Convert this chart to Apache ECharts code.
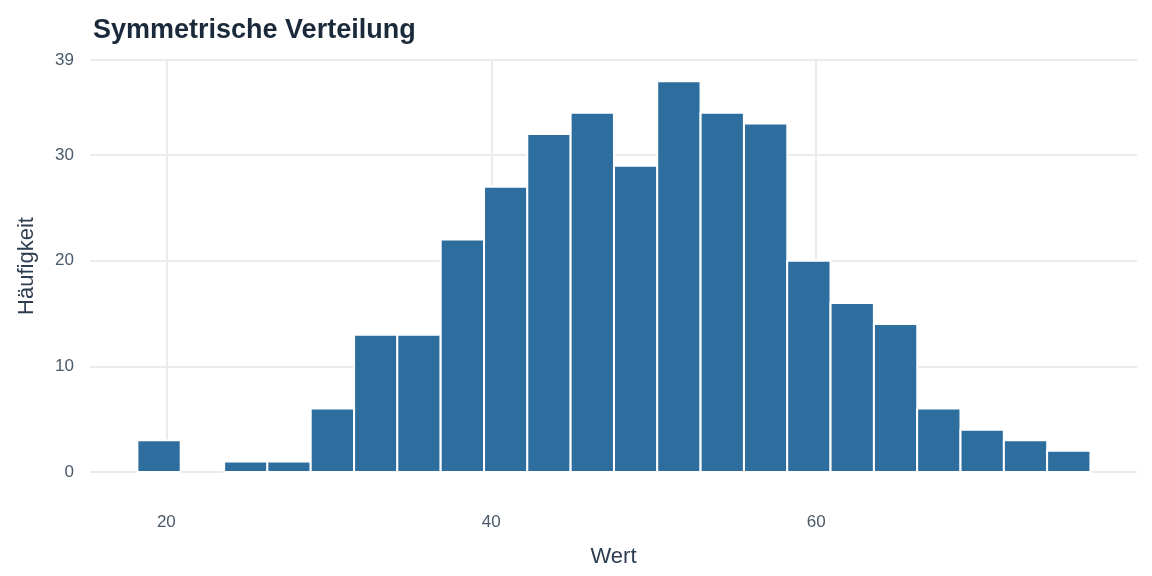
<!DOCTYPE html>
<html>
<head>
<meta charset="utf-8">
<script src="https://cdn.jsdelivr.net/npm/echarts@6/dist/echarts.min.js"></script>
<style>html,body{margin:0;padding:0;background:#fff}#chart{width:1152px;height:576px}</style>
</head>
<body>
<div id="chart"></div>
<script>
// Klassenmitten und Häufigkeiten
const binCenters = [19.55, 22.22, 24.89, 27.55, 30.22, 32.89, 35.55, 38.22, 40.89, 43.55, 46.22,
  48.89, 51.55, 54.22, 56.89, 59.55, 62.22, 64.89, 67.55, 70.22, 72.89, 75.55];
const counts = [3, 0, 1, 1, 6, 13, 13, 22, 27, 32, 34, 29, 37, 34, 33, 20, 16, 14, 6, 4, 3, 2];
const binWidth = 2.667;
const xTicks = [20, 40, 60];

const chart = echarts.init(document.getElementById('chart'));
const gridColor = '#ebebeb';

chart.setOption({
  animation: false,
  title: {
    text: 'Symmetrische Verteilung', left: 88, top: 12,
    textStyle: { fontFamily: 'Liberation Sans', fontSize: 27, fontWeight: 'bold', color: '#1b2a3a' }
  },
  grid: { left: 90, right: 15, top: 60, bottom: 104 },
  xAxis: {
    type: 'value', min: 15.3, max: 79.75,
    name: 'Wert', nameLocation: 'middle', nameGap: 74,
    nameTextStyle: { fontFamily: 'Liberation Sans', fontSize: 22, color: '#2e3e50' },
    axisLine: { show: false }, axisTick: { show: false },
    splitLine: { show: false },
    axisLabel: { customValues: xTicks, margin: 42, fontFamily: 'Liberation Sans', fontSize: 17, color: '#4a5a6a' }
  },
  yAxis: {
    type: 'value', min: 0, max: 39, interval: 10,
    name: 'Häufigkeit', nameLocation: 'middle', nameGap: 52,
    nameTextStyle: { fontFamily: 'Liberation Sans', fontSize: 22, color: '#2e3e50' },
    axisLine: { show: false }, axisTick: { show: false },
    splitLine: { lineStyle: { color: gridColor, width: 2 } },
    axisLabel: { margin: 16, fontFamily: 'Liberation Sans', fontSize: 17, color: '#4a5a6a' }
  },
  series: [{
    type: 'custom',
    data: binCenters.map((c, i) => [c, counts[i]]),
    renderItem: function (params, api) {
      const c = api.value(0), v = api.value(1);
      if (!v) return;
      const p0 = api.coord([c - binWidth / 2, v]);
      const p1 = api.coord([c + binWidth / 2, 0]);
      return {
        type: 'rect',
        shape: { x: p0[0], y: p0[1], width: p1[0] - p0[0], height: p1[1] - p0[1] },
        style: { fill: '#2e6e9e', stroke: '#fff', lineWidth: 2 }
      };
    },
    markLine: {
      silent: true, symbol: 'none', label: { show: false }, z: -1,
      lineStyle: { color: gridColor, width: 2, type: 'solid' },
      data: xTicks.map(t => ({ xAxis: t }))
    },
    z: 2
  }]
});
</script>
</body>
</html>
